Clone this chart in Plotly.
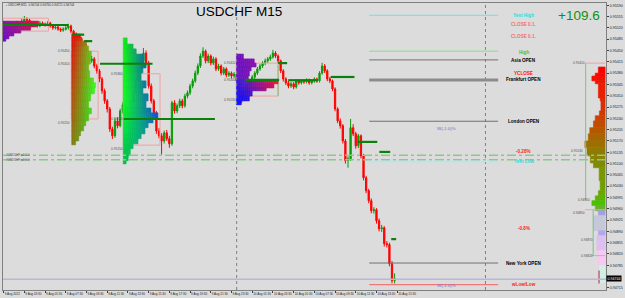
import math
import pandas as pd
import plotly.graph_objects as go

# ---------------- data ----------------
symbol = "USDCHF M15"
first_bar = "2022-08-09 01:30"
first_open = 0.95526
close = [0.95523, 0.95520, 0.95526, 0.95529, 0.95523, 0.95535, 0.95532, 0.95541, 0.95547, 0.95544,
         0.95535, 0.95529, 0.95532, 0.95526, 0.95535, 0.95532, 0.95529, 0.95535, 0.95526, 0.95520,
         0.95523, 0.95516, 0.95513, 0.95516, 0.95520, 0.95526, 0.95510, 0.95501, 0.95495, 0.95486,
         0.95473, 0.95464, 0.95442, 0.95418, 0.95424, 0.95402, 0.95387, 0.95362, 0.95325, 0.95294,
         0.95269, 0.95207, 0.95186, 0.95232, 0.95217, 0.95263, 0.95282, 0.95248, 0.95269, 0.95294,
         0.95325, 0.95356, 0.95387, 0.95418, 0.95442, 0.95411, 0.95340, 0.95294, 0.95257, 0.95201,
         0.95186, 0.95170, 0.95195, 0.95177, 0.95161, 0.95288, 0.95263, 0.95279, 0.95294, 0.95279,
         0.95309, 0.95319, 0.95340, 0.95356, 0.95380, 0.95402, 0.95433, 0.95448, 0.95418, 0.95433,
         0.95411, 0.95424, 0.95393, 0.95402, 0.95380, 0.95393, 0.95374, 0.95380, 0.95371, 0.95377,
         0.95356, 0.95325, 0.95300, 0.95319, 0.95340, 0.95356, 0.95368, 0.95380, 0.95393, 0.95402,
         0.95411, 0.95418, 0.95424, 0.95430, 0.95442, 0.95433, 0.95418, 0.95387, 0.95362, 0.95350,
         0.95340, 0.95347, 0.95337, 0.95356, 0.95350, 0.95356, 0.95353, 0.95359, 0.95350, 0.95356,
         0.95362, 0.95356, 0.95380, 0.95402, 0.95387, 0.95362, 0.95356, 0.95331, 0.95269, 0.95232,
         0.95217, 0.95170, 0.95109, 0.95115, 0.95211, 0.95192, 0.95155, 0.95186, 0.95124, 0.95056,
         0.95016, 0.94985, 0.94954, 0.94957, 0.94923, 0.94898, 0.94901, 0.94852, 0.94849, 0.94790,
         0.94738, 0.94744]
high = [0.95533, 0.95530, 0.95534, 0.95538, 0.95535, 0.95542, 0.95540, 0.95550, 0.95557, 0.95553,
        0.95549, 0.95540, 0.95538, 0.95536, 0.95541, 0.95540, 0.95537, 0.95541, 0.95539, 0.95530,
        0.95529, 0.95527, 0.95521, 0.95522, 0.95526, 0.95533, 0.95530, 0.95514, 0.95506, 0.95500,
        0.95492, 0.95480, 0.95470, 0.95448, 0.95433, 0.95430, 0.95409, 0.95393, 0.95368, 0.95332,
        0.95300, 0.95275, 0.95214, 0.95240, 0.95243, 0.95270, 0.95290, 0.95288, 0.95276, 0.95300,
        0.95333, 0.95362, 0.95395, 0.95426, 0.95458, 0.95450, 0.95418, 0.95348, 0.95300, 0.95263,
        0.95210, 0.95194, 0.95202, 0.95204, 0.95186, 0.95294, 0.95296, 0.95286, 0.95301, 0.95300,
        0.95316, 0.95326, 0.95347, 0.95363, 0.95388, 0.95410, 0.95441, 0.95460, 0.95453, 0.95440,
        0.95438, 0.95431, 0.95429, 0.95409, 0.95407, 0.95399, 0.95398, 0.95386, 0.95385, 0.95383,
        0.95381, 0.95360, 0.95330, 0.95325, 0.95346, 0.95362, 0.95374, 0.95386, 0.95399, 0.95408,
        0.95417, 0.95425, 0.95430, 0.95437, 0.95452, 0.95448, 0.95438, 0.95422, 0.95392, 0.95367,
        0.95356, 0.95353, 0.95352, 0.95361, 0.95360, 0.95361, 0.95360, 0.95364, 0.95363, 0.95361,
        0.95367, 0.95366, 0.95386, 0.95412, 0.95408, 0.95392, 0.95368, 0.95360, 0.95336, 0.95274,
        0.95240, 0.95222, 0.95176, 0.95122, 0.95238, 0.95222, 0.95198, 0.95192, 0.95190, 0.95130,
        0.95062, 0.95022, 0.94992, 0.94965, 0.94962, 0.94930, 0.94910, 0.94906, 0.94860, 0.94855,
        0.94798, 0.94760]
low = [0.95515, 0.95512, 0.95516, 0.95520, 0.95518, 0.95520, 0.95526, 0.95528, 0.95536, 0.95538,
       0.95530, 0.95524, 0.95525, 0.95521, 0.95522, 0.95527, 0.95524, 0.95525, 0.95521, 0.95514,
       0.95515, 0.95511, 0.95507, 0.95508, 0.95512, 0.95515, 0.95503, 0.95494, 0.95487, 0.95478,
       0.95466, 0.95455, 0.95434, 0.95410, 0.95412, 0.95395, 0.95378, 0.95352, 0.95316, 0.95285,
       0.95258, 0.95198, 0.95176, 0.95180, 0.95209, 0.95212, 0.95255, 0.95240, 0.95242, 0.95262,
       0.95288, 0.95318, 0.95350, 0.95380, 0.95412, 0.95404, 0.95332, 0.95286, 0.95248, 0.95192,
       0.95178, 0.95128, 0.95162, 0.95170, 0.95149, 0.95155, 0.95255, 0.95256, 0.95272, 0.95271,
       0.95273, 0.95302, 0.95312, 0.95333, 0.95350, 0.95374, 0.95396, 0.95427, 0.95410, 0.95411,
       0.95404, 0.95405, 0.95386, 0.95387, 0.95373, 0.95374, 0.95367, 0.95368, 0.95364, 0.95365,
       0.95348, 0.95317, 0.95288, 0.95293, 0.95313, 0.95334, 0.95350, 0.95362, 0.95374, 0.95387,
       0.95396, 0.95405, 0.95412, 0.95418, 0.95425, 0.95427, 0.95411, 0.95380, 0.95354, 0.95343,
       0.95333, 0.95334, 0.95330, 0.95332, 0.95344, 0.95345, 0.95347, 0.95348, 0.95344, 0.95345,
       0.95350, 0.95350, 0.95351, 0.95375, 0.95380, 0.95355, 0.95349, 0.95324, 0.95262, 0.95225,
       0.95208, 0.95162, 0.95100, 0.95087, 0.95108, 0.95185, 0.95146, 0.95148, 0.95116, 0.95048,
       0.95008, 0.94977, 0.94946, 0.94945, 0.94914, 0.94890, 0.94888, 0.94843, 0.94840, 0.94782,
       0.94729, 0.94729]
opens = [first_open] + close[:-1]

# y-axis price ticks (right scale)
price_ticks = [0.95590, 0.95555, 0.95520, 0.95485, 0.95450, 0.95415, 0.95380, 0.95345, 0.95310,
               0.95275, 0.95240, 0.95205, 0.95170, 0.95135, 0.95100, 0.95065, 0.95030, 0.94995,
               0.94960, 0.94925, 0.94890, 0.94855, 0.94820, 0.94785, 0.94750, 0.94715]

# volume profiles: price boundaries + row volumes (in bars)
profA_levels = [0.95541, 0.95532, 0.95523, 0.95513, 0.95504, 0.95495, 0.95486, 0.95479]
profA_vol = [13.8, 13.0, 10.7, 6.9, 4.2, 2.3, 1.1]
profB_levels = [0.95501, 0.95489, 0.95479, 0.95464, 0.95448, 0.95433, 0.95408, 0.95387, 0.95365,
                0.95350, 0.95334, 0.95316, 0.95294, 0.95272, 0.95254, 0.95232, 0.95217, 0.95201,
                0.95186, 0.95170, 0.95158]
profB_vol = [3.4, 4.0, 5.7, 6.5, 7.6, 7.3, 6.5, 6.9, 8.4, 9.2, 8.8, 7.3, 6.5, 7.6, 6.5, 5.4, 4.6,
             3.4, 2.7, 1.5]
profC_levels = [0.95489, 0.95470, 0.95455, 0.95439, 0.95411, 0.95396, 0.95381, 0.95356, 0.95334,
                0.95316, 0.95294, 0.95272, 0.95257, 0.95238, 0.95226, 0.95211, 0.95192, 0.95177,
                0.95161, 0.95146, 0.95124, 0.95109, 0.95099]
profC_vol = [1.5, 3.8, 5.0, 8.0, 8.8, 7.6, 6.9, 8.8, 7.6, 9.6, 8.8, 10.7, 13.4, 11.5, 9.6, 8.4,
             6.9, 5.7, 3.8, 2.7, 1.9, 1.1]
profD_levels = [0.95439, 0.95424, 0.95411, 0.95399, 0.95387, 0.95371, 0.95359, 0.95347, 0.95334,
                0.95325, 0.95309, 0.95294, 0.95282]
profD_vol = [2.7, 6.9, 7.6, 5.7, 5.0, 4.6, 16.1, 14.5, 11.5, 6.1, 5.0, 1.9]
profE_levels = [0.95399, 0.95380, 0.95371, 0.95356, 0.95347, 0.95303, 0.95294, 0.95263, 0.95248,
                0.95232, 0.95211, 0.95192, 0.95170, 0.95149, 0.95124, 0.95102, 0.95087, 0.95047,
                0.95016, 0.95000, 0.94985, 0.94970, 0.94954, 0.94939, 0.94892, 0.94877, 0.94831,
                0.94784, 0.94732]
profE_vol = [2.6, 3.8, 5.1, 3.8, 2.6, 1.9, 1.6, 2.2, 3.8, 4.5, 5.9, 6.5, 7.8, 7.0, 5.7, 4.5, 2.3,
             1.9, 2.6, 3.8, 5.1, 3.8, 2.6, 4.5, 2.6, 3.2, 2.6, 2.2]

# levels of the session lines (price) and their labels
session_levels = {"Yest High": 0.95559, "High": 0.95448, "Asia OPEN": 0.95421,
                  "Frankfurt OPEN": 0.95359, "London OPEN": 0.95231, "Yest Low": 0.95106,
                  "New York OPEN": 0.94792, "wLow/Low": 0.94725}
text_levels = [("Yest High", 0.95558, "#20dede"), ("CLOSE 0.1.", 0.95530, "#f07070"),
               ("CLOSE 0.1.", 0.95493, "#f07070"), ("High", 0.95445, "#40c040"),
               ("Asia OPEN", 0.95420, "#000000"), ("YCLOSE", 0.95380, "#ff1010"),
               ("Frankfurt OPEN", 0.95359, "#000000"), ("London OPEN", 0.95230, "#000000"),
               ("-0.28%", 0.95136, "#ff2020"), ("Yest Low", 0.95106, "#20dede"),
               ("-0.8%", 0.94898, "#ff2020"), ("New York OPEN", 0.94792, "#000000"),
               ("wLow/Low", 0.94725, "#ff2020")]
week_pct = [("W(-1.0)%", 0.95207), ("W(-1.0)%", 0.94722)]
poc_levels = [0.95529, 0.95499, 0.95479, 0.95409, 0.95238, 0.95359, 0.95411, 0.95358, 0.95368,
              0.95167, 0.95136, 0.94866]
level_lines = [0.95126, 0.95112]
last_price = 0.94744
profit_text = "+109.6"

# ---------------- figure ----------------
n = len(close)
idx = list(range(n))
times = pd.date_range(first_bar, periods=240, freq="15min")
tick_idx = list(range(0, 153, 8))
tick_txt = []
for k in tick_idx:
    t = times[k]
    tick_txt.append("9 Aug 2022" if k == 0 else f"{t.day} {t.strftime('%b %H:%M')}")

BG = "#dcdcdc"
fig = go.Figure()
fig.add_trace(go.Candlestick(
    x=idx, open=opens, high=high, low=low, close=close,
    increasing=dict(line=dict(color="#0a9a0a", width=1), fillcolor="#0a9a0a"),
    decreasing=dict(line=dict(color="#ff0000", width=1), fillcolor="#ff0000"),
    whiskerwidth=0, showlegend=False, hoverinfo="skip"))

shapes = []


def hx(c):
    c = c.lstrip("#")
    return [int(c[i:i + 2], 16) for i in (0, 2, 4)]


def mix(a, b, t):
    A, B = hx(a), hx(b)
    return "#%02x%02x%02x" % tuple(round(A[i] + (B[i] - A[i]) * t) for i in range(3))


def stop_lr(stops, f):
    for j in range(len(stops) - 1):
        f0, l0, r0 = stops[j]
        f1, l1, r1 = stops[j + 1]
        if f <= f1 or j == len(stops) - 2:
            t = 0 if f1 == f0 else min(max((f - f0) / (f1 - f0), 0), 1)
            return mix(l0, l1, t), mix(r0, r1, t)


def add_profile(levels, vols, start, stops=None, colors=None, direction=1):
    nr = len(vols)
    vmax = max(vols)
    for r in range(nr):
        y0, y1 = levels[r], levels[r + 1]
        L = vols[r]
        if colors is not None:
            shapes.append(dict(type="rect", xref="x", yref="y", x0=start, x1=start + direction * L,
                               y0=y0, y1=y1, fillcolor=colors[r],
                               line=dict(color=colors[r], width=0.6), layer="above"))
            continue
        f = r / (nr - 1)
        lc, rc = stop_lr(stops, f)
        k = max(1, math.ceil(L / 0.8))
        for s in range(k):
            a, b = s * L / k, (s + 1) * L / k
            col = mix(lc, rc, (a + b) / 2 / vmax)
            shapes.append(dict(type="rect", xref="x", yref="y", x0=start + a, x1=start + b,
                               y0=y0, y1=y1, fillcolor=col, line=dict(color=col, width=0.6),
                               layer="above"))


def hline(x0, x1, y, color, width=1, dash="solid"):
    shapes.append(dict(type="line", xref="x", yref="y", x0=x0, x1=x1, y0=y, y1=y,
                       line=dict(color=color, width=width, dash=dash), layer="above"))


def rect(x0, x1, y0, y1, color):
    shapes.append(dict(type="rect", xref="x", yref="y", x0=x0, x1=x1, y0=y0, y1=y1,
                       line=dict(color=color, width=1), fillcolor="rgba(0,0,0,0)", layer="above"))


# value-area boxes
PINK = "#f2a0a0"
rect(-0.25, 17.3, 0.95550, 0.95510, PINK)
rect(26.1, 36.5, 0.95448, 0.95238, PINK)
rect(46.2, 60.4, 0.95378, 0.95157, PINK)
rect(90.0, 106.0, 0.95411, 0.95309, PINK)
shapes.append(dict(type="line", x0=106.0, x1=106.0, y0=0.95405, y1=0.95309,
                   line=dict(color="#80c080", width=1), layer="above"))

# profiles
add_profile(profA_levels, profA_vol, -0.25,
            stops=[(0, "#8c14a8", "#e0103c"), (1, "#6810c8", "#a0168c")])
add_profile(profB_levels, profB_vol, 26.3,
            stops=[(0, "#e81010", "#e82010"), (0.12, "#e01010", "#50f020"),
                   (0.55, "#b84a10", "#30ff20"), (1, "#887a10", "#20e828")])
add_profile(profC_levels, profC_vol, 46.2,
            stops=[(0, "#10f010", "#0810f8"), (0.45, "#10ff20", "#1040e0"),
                   (0.75, "#00e040", "#1070c0"), (1, "#00c040", "#10a0a0")])
add_profile(profD_levels, profD_vol, 89.9,
            stops=[(0, "#7010c0", "#a010a8"), (0.49, "#6018c8", "#b0108c"),
                   (0.51, "#3020e8", "#ff1030"), (0.72, "#2018f0", "#e01050"),
                   (1, "#0a10ff", "#3010e0")])
E_colors = ["#ff0000", "#f80800", "#f21000", "#ea1800", "#e82000", "#e02800", "#d83000", "#d03a00",
            "#c84400", "#c04c00", "#b45800", "#a86400", "#9c7000", "#907a00", "#888400", "#808c00",
            "#789800", "#70a000", "#68a800", "#60b000", "#4cc000", "#68b030", "#a0a0e8", "#c4c8d8",
            "#b0a8ec", "#dcc0f0", "#f6c8f2", "#d0f0e4"]
add_profile(profE_levels, profE_vol, 232.3, colors=E_colors, direction=-1)
shapes.append(dict(type="rect", x0=229.6, x1=230.3, y0=0.94769, y1=0.94729,
                   fillcolor="#c07890", line=dict(width=0), layer="above"))
hline(224.6, 232.3, 0.95411, PINK)
hline(224.6, 232.3, 0.94957, PINK)
hline(226.9, 232.3, 0.94815, PINK)
shapes.append(dict(type="line", x0=224.8, x1=224.8, y0=0.95411, y1=0.94985,
                   line=dict(color="#80c080", width=1), layer="above"))
shapes.append(dict(type="line", x0=227.7, x1=227.7, y0=0.94957, y1=0.94815,
                   line=dict(color="#80c080", width=1), layer="above"))

# POC / naked POC lines
poc_x = [(-0.25, 25), (26.5, 31.1), (31.1, 34.2), (37.2, 57.5), (46.4, 81.6), (93.4, 106.4),
         (106.0, 109.5), (109.9, 121.4), (126.3, 135.5), (136.7, 144.3), (145.1, 149.3), (149.7, 151.6)]
for (a, b), y in zip(poc_x, poc_levels):
    hline(a, b, y, "#0c800c", 2.2)

# full-width level lines
for y in level_lines:
    hline(-0.25, 232.65, y, "#8cc88c", 1.5, "dashdot")
hline(-0.25, 232.65, last_price - 0.00002, "#bcb4dc", 1.5)

# day separators
for xv in (90.0, 186.1):
    shapes.append(dict(type="line", xref="x", yref="paper", x0=xv, x1=xv, y0=0, y1=1,
                       line=dict(color="#808080", width=1, dash="dot"), layer="above"))

# session lines
sess_style = {"Yest High": ("#66e6e6", 1), "High": ("#88e088", 1), "Asia OPEN": ("#707070", 1),
              "Frankfurt OPEN": ("#8c8c8c", 3), "London OPEN": ("#707070", 1),
              "Yest Low": ("#a8ecf2", 1.5), "New York OPEN": ("#707070", 1), "wLow/Low": ("#f07878", 1.2)}
for name, y in session_levels.items():
    c, w = sess_style[name]
    hline(141.2, 191.0, y, c, w)

ann = []
FONT = "Liberation Sans"
for txt, y, c in text_levels:
    ann.append(dict(x=200.9, y=y, xref="x", yref="y", text=f"<b>{txt}</b>", showarrow=False,
                    font=dict(family=FONT, size=4.6, color=c)))
for txt, y in week_pct:
    ann.append(dict(x=171.1, y=y, xref="x", yref="y", text=txt, showarrow=False,
                    font=dict(family=FONT, size=4.4, color="#7a68c0")))

small_labels = [(23.5, 0.95448, "0.95450"), (23.5, 0.95408, "0.95410"), (23.5, 0.95226, "0.95250"),
                (43.7, 0.95377, "0.95360"), (43.7, 0.95238, "0.95200"), (43.7, 0.95146, "0.95150"),
                (87.3, 0.95411, "0.95410"), (87.3, 0.95359, "0.95300"), (87.3, 0.95297, "0.95230"),
                (222.3, 0.95411, "0.95410"), (221.6, 0.95139, "0.95130"), (224.2, 0.94988, "0.94950"),
                (222.3, 0.94948, "0.94850"), (225.4, 0.94864, "0.94870"), (225.4, 0.94815, "0.94820")]
for xv, y, t in small_labels:
    ann.append(dict(x=xv, y=y, xref="x", yref="y", text=t, showarrow=False,
                    font=dict(family=FONT, size=3.2, color="#505050")))
for y in level_lines:
    ann.append(dict(x=0.2, y=y, xref="x", yref="y", text="#USDCHF,w0 0.0", showarrow=False,
                    xanchor="left", font=dict(family=FONT, size=3.0, color="#505050")))

ann.append(dict(x=90.8, y=0.95572, xref="x", yref="y", text=symbol, showarrow=False,
                font=dict(family=FONT, size=13.5, color="#000000")))
ann.append(dict(x=222.3, y=0.95559, xref="x", yref="y", text=profit_text, showarrow=False,
                font=dict(family=FONT, size=13.5, color="#109010")))
ann.append(dict(x=0.1, y=0.95590, xref="x", yref="y", xanchor="left", showarrow=False,
                text="▪ USDCHF,M15  0.94744 0.94760 0.94721 0.94744",
                font=dict(family=FONT, size=3.0, color="#303030")))
ann.append(dict(x=1.0, y=last_price, xref="paper", yref="y", xanchor="left", showarrow=False,
                text=f"{last_price:.5f}", bgcolor="#000000", borderpad=0.5,
                font=dict(family=FONT, size=3.6, color="#ffffff")))

# the current-price box covers the nearest scale label
ytick_text = ["" if abs(v - last_price) < 0.00010 else f"{v:.5f}" for v in price_ticks]

fig.update_layout(
    width=625, height=298, margin=dict(l=2, r=14, t=2, b=8),
    paper_bgcolor=BG, plot_bgcolor=BG, showlegend=False,
    shapes=shapes, annotations=ann,
    xaxis=dict(range=[-0.25, 232.65], rangeslider=dict(visible=False), showgrid=False,
               zeroline=False, tickmode="array", tickvals=tick_idx, ticktext=tick_txt,
               tickangle=0, ticks="outside", ticklen=2, tickcolor="#404040",
               ticklabelposition="outside right",
               tickfont=dict(family=FONT, size=3.0, color="#202020"),
               showline=True, linecolor="#808080", linewidth=1, mirror=True),
    yaxis=dict(range=[0.947085, 0.955971], side="right", showgrid=False, zeroline=False,
               tickmode="array", tickvals=price_ticks, ticktext=ytick_text,
               ticks="outside", ticklen=2, tickcolor="#404040",
               tickfont=dict(family=FONT, size=3.6, color="#202020"),
               showline=True, linecolor="#808080", linewidth=1, mirror=True),
)
fig.write_html("out.html")
